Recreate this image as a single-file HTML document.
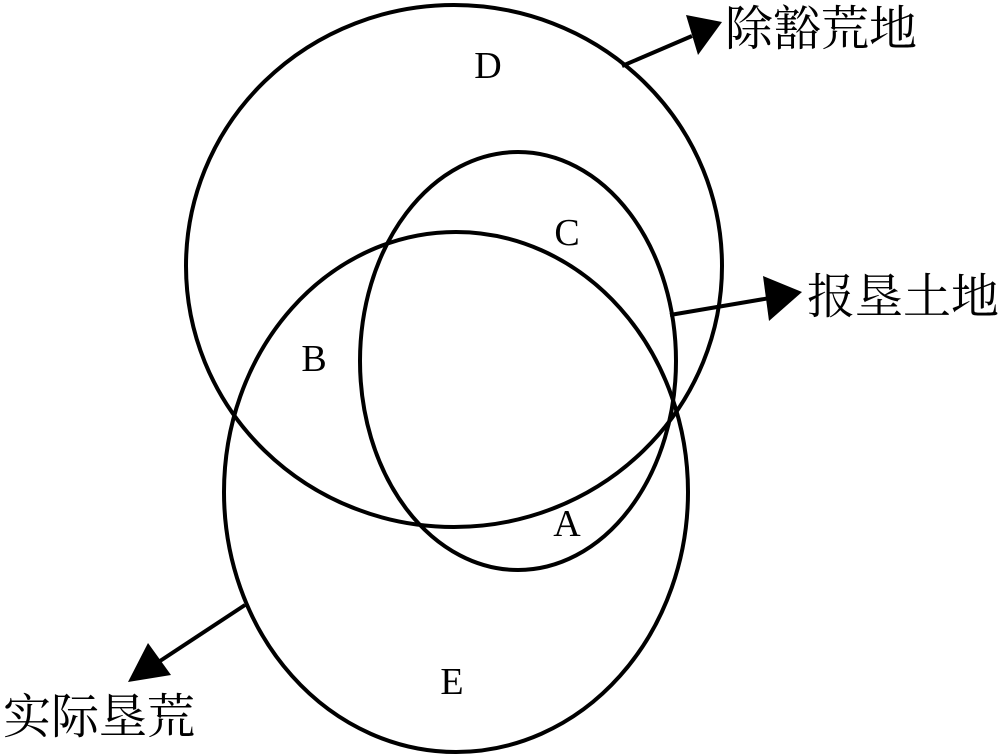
<!DOCTYPE html>
<html><head><meta charset="utf-8"><style>
html,body{margin:0;padding:0;background:#fff;}
svg{display:block}
</style></head><body>
<svg width="1000" height="756" viewBox="0 0 1000 756" xmlns="http://www.w3.org/2000/svg">
<g fill="none" stroke="#000" stroke-width="4">
<ellipse cx="454" cy="266" rx="268" ry="261"/>
<ellipse cx="456" cy="492" rx="232" ry="260"/>
<ellipse cx="518" cy="361" rx="158" ry="209"/>
<line x1="622" y1="66" x2="692" y2="36"/>
<line x1="670" y1="315" x2="770" y2="298"/>
<line x1="245" y1="605" x2="160" y2="661"/>
</g>
<g fill="#000">
<polygon points="722,22 686,15 698,55"/>
<polygon points="802,292 763,276 769,321"/>
<polygon points="128,682 148,643 171,675"/>
</g>
<g font-family="Liberation Serif, serif" font-size="38" fill="#000" text-anchor="middle">
<text x="488" y="78">D</text>
<text x="567" y="245">C</text>
<text x="314" y="371">B</text>
<text x="567" y="536">A</text>
<text x="452" y="694">E</text>
</g>
<g font-family="Liberation Serif, 'Noto Serif CJK SC', serif" font-size="48" fill="#000">
<text x="725" y="45">除豁荒地</text>
<text x="807" y="313">报垦土地</text>
<text x="3" y="733">实际垦荒</text>
</g>
</svg>
</body></html>
